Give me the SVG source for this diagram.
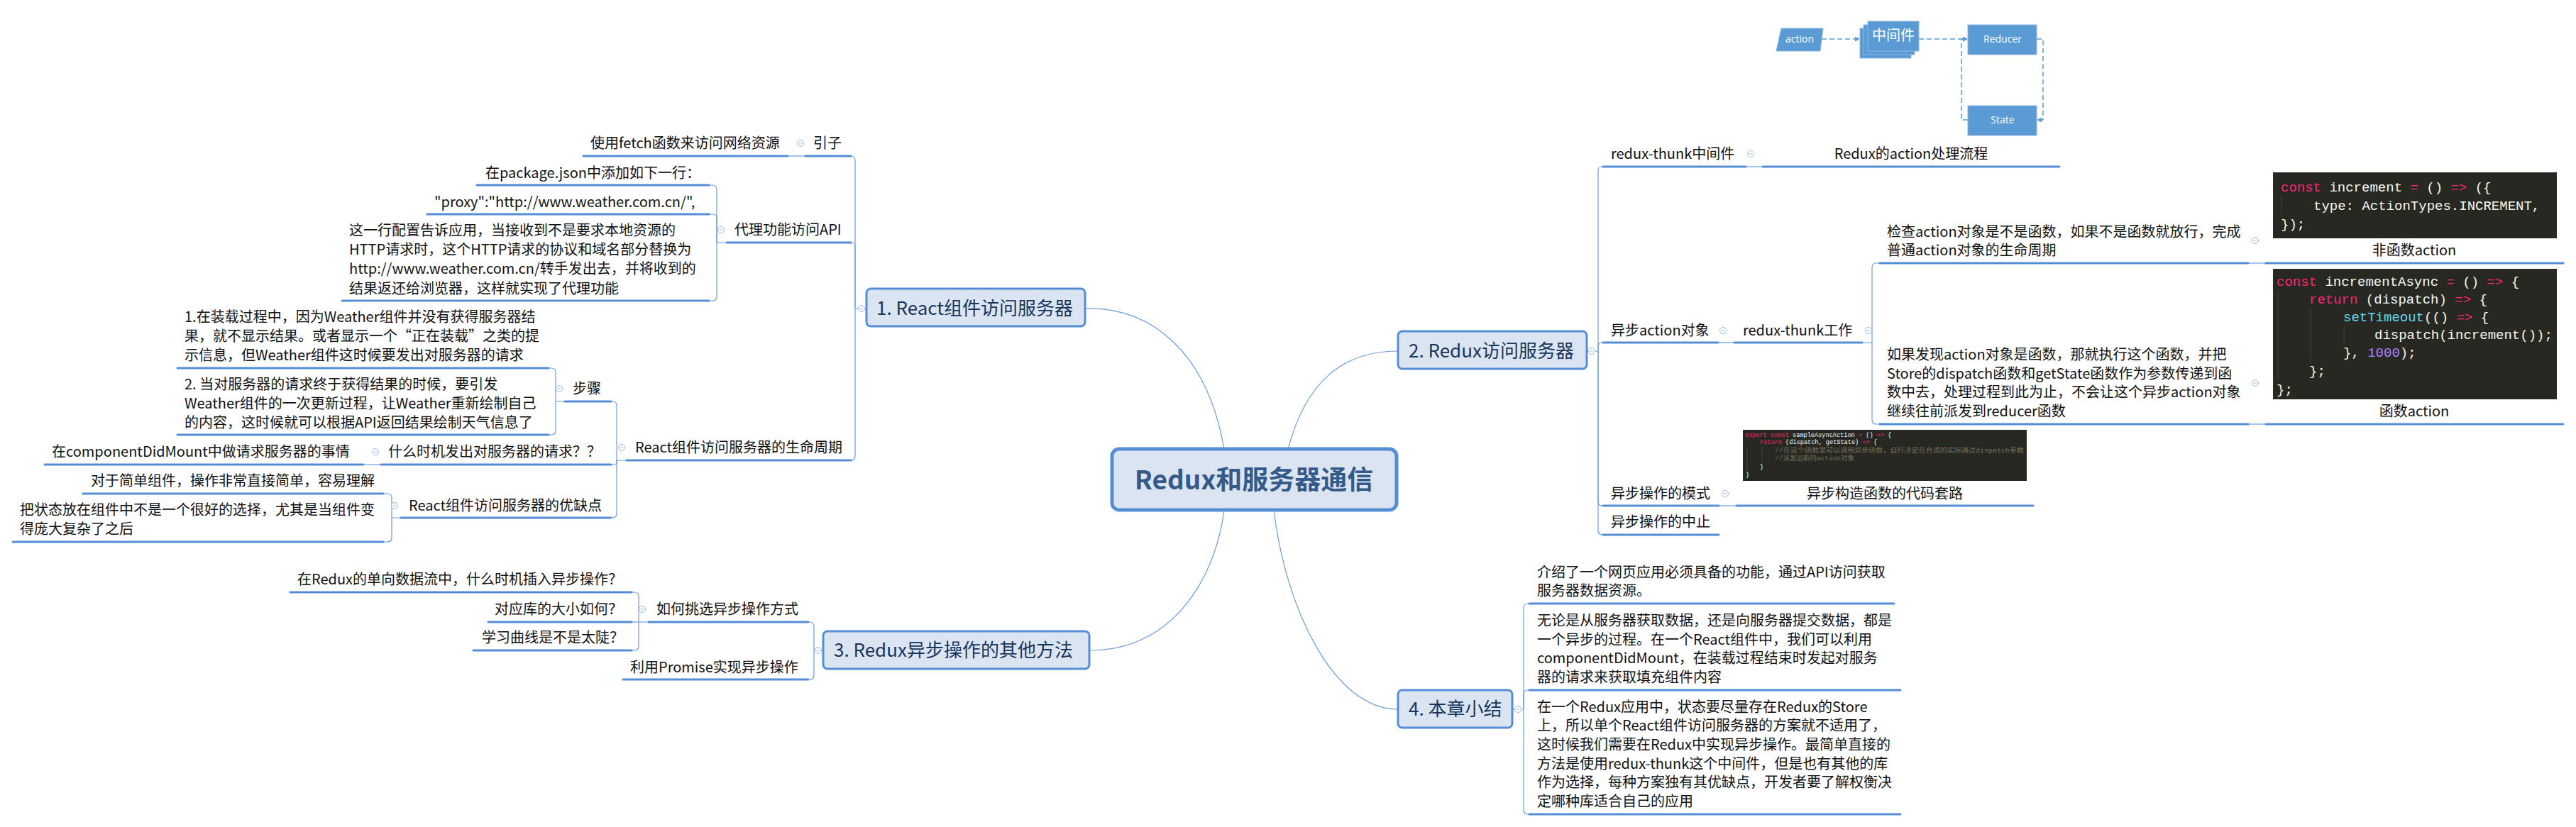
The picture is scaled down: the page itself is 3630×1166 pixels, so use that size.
<svg xmlns="http://www.w3.org/2000/svg" xmlns:xlink="http://www.w3.org/1999/xlink" width="3630" height="1166" viewBox="0 0 3630 1166">
<style>
.t{font-family:"Noto Sans CJK SC","Noto Sans",sans-serif;font-size:20px;fill:#111}
.m{text-anchor:middle}
.ul{stroke:#558ED5;stroke-width:3;fill:none;stroke-linecap:round}
.cn{stroke:#6D9CDA;stroke-width:1.2;fill:none}
.box{fill:#DBE5F1;stroke:#558ED5;stroke-width:3}
.nt{font-family:"Noto Sans CJK SC","Noto Sans",sans-serif;font-size:26px;fill:#17365D}
.ct{font-family:"Noto Sans CJK SC",sans-serif;font-size:37px;font-weight:bold;fill:#345A8A;text-anchor:middle}
.cb{fill:#272822}
.code{font-family:"Liberation Mono","Noto Sans CJK SC",monospace;font-size:19px;fill:#F8F8F2}
.sm{font-size:8.6px}
.k{fill:#F92672}.f{fill:#66D9EF}.n{fill:#AE81FF}.cm{fill:#75715E}
.guide{stroke:#45453c;stroke-width:1}
.fl{fill:#5B9BD5;stroke:#8DB8E2;stroke-width:1}
.ft{font-family:"Open Sans","Noto Sans CJK SC",sans-serif;font-size:14px;fill:#fff;text-anchor:middle}
.dash{stroke:#5B9BD5;stroke-width:1.5;fill:none;stroke-dasharray:7 4}
</style>
<defs>
<g id="mk"><circle r="4.5" fill="#fff" stroke="#9DB9E3" stroke-width="1"/><line x1="-2.2" y1="0" x2="2.2" y2="0" stroke="#9DB9E3" stroke-width="1"/></g>
<marker id="arr" viewBox="0 0 8 8" refX="7" refY="4" markerWidth="7" markerHeight="7" orient="auto" markerUnits="userSpaceOnUse"><path d="M0,0 L8,4 L0,8 z" fill="#5B9BD5"/></marker>
</defs>
<rect width="3630" height="1166" fill="#fff"/>

<g id="connectors">
<path class="cn" d="M1529 435 C1625 432 1702 500 1725 633"/>
<path class="cn" d="M1815 633 C1840 540 1890 495 1970 495"/>
<path class="cn" d="M1725 719 C1712 820 1650 917 1535 917"/>
<path class="cn" d="M1795 719 C1812 860 1880 1000 1970 1000"/>
<path class="cn" d="M1221 435 H1205 V226 Q1205 220 1199 220"/>
<path class="cn" d="M1205 435 V348 Q1205 342 1199 342"/>
<path class="cn" d="M1205 435 V643 Q1205 649 1199 649"/>
<path class="cn" d="M1135 220 H1110"/>
<path class="cn" d="M1024 342 H1010 V267 Q1010 261 1004 261 H999"/>
<path class="cn" d="M1010 342 V308 Q1010 302 1004 302 H999"/>
<path class="cn" d="M1010 342 V418 Q1010 424 1004 424 H999"/>
<path class="cn" d="M883 649 H869 V572 Q869 566 863 566 H861"/>
<path class="cn" d="M869 649 V652 Q869 655 866 655 H861"/>
<path class="cn" d="M869 649 V724 Q869 730 863 730 H861"/>
<path class="cn" d="M796 566 H783 V525 Q783 519 777 519 H773"/>
<path class="cn" d="M783 566 V607 Q783 613 777 613 H773"/>
<path class="cn" d="M537 655 H512"/>
<path class="cn" d="M565 730 H552 V702 Q552 696 546 696 H540"/>
<path class="cn" d="M552 730 V758 Q552 764 546 764 H540"/>
<path class="cn" d="M1160 917 H1147 V883 Q1147 877 1141 877 H1139"/>
<path class="cn" d="M1147 917 V952 Q1147 958 1141 958 H1139"/>
<path class="cn" d="M914 877 H890"/>
<path class="cn" d="M900 877 V841 Q900 835 894 835 H890"/>
<path class="cn" d="M900 877 V911 Q900 917 894 917 H890"/>
<path class="cn" d="M2236 495 H2252 V241 Q2252 235 2258 235 H2259"/>
<path class="cn" d="M2252 495 V489 Q2252 483 2258 483 H2259"/>
<path class="cn" d="M2252 495 V707 Q2252 713 2258 713 H2259"/>
<path class="cn" d="M2252 495 V748 Q2252 754 2258 754 H2259"/>
<path class="cn" d="M2460 235 H2484"/>
<path class="cn" d="M2421 483 H2444"/>
<path class="cn" d="M2624 483 H2638 V377 Q2638 371 2644 371 H2649"/>
<path class="cn" d="M2638 483 V592 Q2638 598 2644 598 H2649"/>
<path class="cn" d="M3168 371 H3193"/>
<path class="cn" d="M3168 598 H3193"/>
<path class="cn" d="M2422 713 H2447"/>
<path class="cn" d="M2131 1000 H2147 V857 Q2147 851 2153 851 H2155"/>
<path class="cn" d="M2147 1000 V979 Q2147 973 2153 973 H2155"/>
<path class="cn" d="M2147 1000 V1142 Q2147 1148 2153 1148 H2155"/>
</g>

<g id="center">
<rect x="1567" y="633" width="401" height="86" rx="10" fill="#DBE5F1" stroke="#558ED5" stroke-width="5"/>
<text class="ct" x="1767" y="690">Redux和服务器通信</text>
</g>

<g id="n1">
<rect class="box" x="1221" y="407" width="308" height="53" rx="6"/>
<text class="nt" x="1235" y="444">1. React组件访问服务器</text>
<use xlink:href="#mk" x="1214" y="435"/>
</g>
<g id="n1-intro">
<text class="t" x="1146" y="209">引子</text>
<line class="ul" x1="1135" y1="220" x2="1199" y2="220"/>
<use xlink:href="#mk" x="1128" y="202"/>
</g>
<g id="n1-fetch">
<text class="t" x="832" y="209">使用fetch函数来访问网络资源</text>
<line class="ul" x1="822" y1="220" x2="1110" y2="220"/>
</g>
<g id="n1-proxy">
<text class="t" x="1035" y="331">代理功能访问API</text>
<line class="ul" x1="1024" y1="342" x2="1199" y2="342"/>
<use xlink:href="#mk" x="1016" y="324"/>
</g>
<g id="n1-proxy-a">
<text class="t" x="684" y="251">在package.json中添加如下一行：</text>
<line class="ul" x1="672" y1="261" x2="999" y2="261"/>
</g>
<g id="n1-proxy-b">
<text class="t" x="612" y="292">"proxy":"http://www.weather.com.cn/",</text>
<line class="ul" x1="602" y1="302" x2="999" y2="302"/>
</g>
<g id="n1-proxy-c">
<text class="t"><tspan x="492" y="332">这一行配置告诉应用，当接收到不是要求本地资源的</tspan><tspan x="492" y="359">HTTP请求时，这个HTTP请求的协议和域名部分替换为</tspan><tspan x="492" y="386">http://www.weather.com.cn/转手发出去，并将收到的</tspan><tspan x="492" y="414">结果返还给浏览器，这样就实现了代理功能</tspan></text>
<line class="ul" x1="482" y1="424" x2="999" y2="424"/>
</g>
<g id="n1-life">
<text class="t" x="895" y="638">React组件访问服务器的生命周期</text>
<line class="ul" x1="883" y1="649" x2="1199" y2="649"/>
<use xlink:href="#mk" x="876" y="631"/>
</g>
<g id="n1-steps">
<text class="t" x="807" y="555">步骤</text>
<line class="ul" x1="796" y1="566" x2="861" y2="566"/>
<use xlink:href="#mk" x="788" y="548"/>
</g>
<g id="n1-step1">
<text class="t"><tspan x="260" y="454">1.在装载过程中，因为Weather组件并没有获得服务器结</tspan><tspan x="260" y="481">果，就不显示结果。或者显示一个“正在装载”之类的提</tspan><tspan x="260" y="508">示信息，但Weather组件这时候要发出对服务器的请求</tspan></text>
<line class="ul" x1="250" y1="519" x2="773" y2="519"/>
</g>
<g id="n1-step2">
<text class="t"><tspan x="260" y="549">2. 当对服务器的请求终于获得结果的时候，要引发</tspan><tspan x="260" y="576">Weather组件的一次更新过程，让Weather重新绘制自己</tspan><tspan x="260" y="603">的内容，这时候就可以根据API返回结果绘制天气信息了</tspan></text>
<line class="ul" x1="250" y1="613" x2="773" y2="613"/>
</g>
<g id="n1-when">
<text class="t" x="547" y="644">什么时机发出对服务器的请求？？</text>
<line class="ul" x1="537" y1="655" x2="861" y2="655"/>
<use xlink:href="#mk" x="529" y="637"/>
</g>
<g id="n1-when-a">
<text class="t" x="73" y="644">在componentDidMount中做请求服务器的事情</text>
<line class="ul" x1="63" y1="655" x2="512" y2="655"/>
</g>
<g id="n1-pros">
<text class="t" x="576" y="720">React组件访问服务器的优缺点</text>
<line class="ul" x1="565" y1="730" x2="861" y2="730"/>
<use xlink:href="#mk" x="556" y="713"/>
</g>
<g id="n1-pros-a">
<text class="t" x="128" y="685">对于简单组件，操作非常直接简单，容易理解</text>
<line class="ul" x1="117" y1="696" x2="540" y2="696"/>
</g>
<g id="n1-pros-b">
<text class="t"><tspan x="28" y="726">把状态放在组件中不是一个很好的选择，尤其是当组件变</tspan><tspan x="28" y="753">得庞大复杂了之后</tspan></text>
<line class="ul" x1="18" y1="764" x2="540" y2="764"/>
</g>

<g id="n3">
<rect class="box" x="1160" y="890" width="375" height="53" rx="6"/>
<text class="nt" x="1175" y="926">3. Redux异步操作的其他方法</text>
<use xlink:href="#mk" x="1153" y="917"/>
</g>
<g id="n3-choose">
<text class="t" x="925" y="866">如何挑选异步操作方式</text>
<line class="ul" x1="914" y1="877" x2="1139" y2="877"/>
<use xlink:href="#mk" x="905" y="859"/>
</g>
<g id="n3-choose-a">
<text class="t" x="419" y="824">在Redux的单向数据流中，什么时机插入异步操作？</text>
<line class="ul" x1="409" y1="835" x2="890" y2="835"/>
</g>
<g id="n3-choose-b">
<text class="t" x="697" y="866">对应库的大小如何？</text>
<line class="ul" x1="688" y1="877" x2="890" y2="877"/>
</g>
<g id="n3-choose-c">
<text class="t" x="679" y="906">学习曲线是不是太陡？</text>
<line class="ul" x1="667" y1="917" x2="890" y2="917"/>
</g>
<g id="n3-promise">
<text class="t" x="888" y="948">利用Promise实现异步操作</text>
<line class="ul" x1="878" y1="958" x2="1139" y2="958"/>
</g>

<g id="n2">
<rect class="box" x="1970" y="467" width="266" height="53" rx="6"/>
<text class="nt" x="1985" y="504">2. Redux访问服务器</text>
<use xlink:href="#mk" x="2243" y="495"/>
</g>
<g id="n2-thunk">
<text class="t" x="2270" y="224">redux-thunk中间件</text>
<line class="ul" x1="2259" y1="235" x2="2460" y2="235"/>
<use xlink:href="#mk" x="2467" y="217"/>
</g>
<g id="n2-flow">
<path class="dash" d="M2567 55 H2620" marker-end="url(#arr)"/>
<path class="dash" d="M2704 55 H2772" marker-end="url(#arr)"/>
<path class="dash" d="M2870 55 H2879 V169 H2871" marker-end="url(#arr)"/>
<path class="dash" d="M2773 169 H2764 V55 H2772" marker-end="url(#arr)"/>
<polygon class="fl" points="2510,40 2569,40 2565,72 2503,72"/>
<text class="ft" x="2536" y="60">action</text>
<rect class="fl" x="2621" y="40" width="72" height="42"/>
<rect class="fl" x="2626" y="35" width="72" height="42"/>
<rect class="fl" x="2632" y="30" width="72" height="42"/>
<text class="ft" x="2668" y="57" style="font-size:20px">中间件</text>
<rect class="fl" x="2773" y="35" width="97" height="42"/>
<text class="ft" x="2822" y="60">Reducer</text>
<rect class="fl" x="2773" y="149" width="97" height="42"/>
<text class="ft" x="2822" y="174">State</text>
<text class="t m" x="2693" y="224">Redux的action处理流程</text>
<line class="ul" x1="2484" y1="235" x2="2902" y2="235"/>
</g>
<g id="n2-async">
<text class="t" x="2270" y="473">异步action对象</text>
<line class="ul" x1="2259" y1="483" x2="2421" y2="483"/>
<use xlink:href="#mk" x="2428" y="466"/>
</g>
<g id="n2-work">
<text class="t" x="2456" y="473">redux-thunk工作</text>
<line class="ul" x1="2444" y1="483" x2="2624" y2="483"/>
<use xlink:href="#mk" x="2633" y="466"/>
</g>
<g id="n2-check">
<text class="t"><tspan x="2659" y="334">检查action对象是不是函数，如果不是函数就放行，完成</tspan><tspan x="2659" y="360">普通action对象的生命周期</tspan></text>
<line class="ul" x1="2649" y1="371" x2="3168" y2="371"/>
<use xlink:href="#mk" x="3178" y="339"/>
</g>
<g id="n2-plain">
<rect class="cb" x="3203" y="243" width="400" height="93"/>
<line class="guide" x1="3215" y1="278" x2="3215" y2="302"/>
<text class="code" x="3214" y="270"><tspan class="k">const</tspan> increment <tspan class="k">=</tspan> () <tspan class="k">=&gt;</tspan> ({</text>
<text class="code" x="3260" y="296">type: ActionTypes.INCREMENT,</text>
<text class="code" x="3214" y="322">});</text>
<text class="t m" x="3402" y="360">非函数action</text>
<line class="ul" x1="3193" y1="371" x2="3612" y2="371"/>
</g>
<g id="n2-func">
<text class="t"><tspan x="2659" y="507">如果发现action对象是函数，那就执行这个函数，并把</tspan><tspan x="2659" y="534">Store的dispatch函数和getState函数作为参数传递到函</tspan><tspan x="2659" y="560">数中去，处理过程到此为止，不会让这个异步action对象</tspan><tspan x="2659" y="587">继续往前派发到reducer函数</tspan></text>
<line class="ul" x1="2649" y1="598" x2="3168" y2="598"/>
<use xlink:href="#mk" x="3178" y="540"/>
</g>
<g id="n2-funcaction">
<rect class="cb" x="3203" y="379" width="400" height="184"/>
<line class="guide" x1="3210" y1="410" x2="3210" y2="535"/>
<line class="guide" x1="3256" y1="435" x2="3256" y2="510"/>
<line class="guide" x1="3303" y1="460" x2="3303" y2="485"/>
<text class="code" x="3208" y="403"><tspan class="k">const</tspan> incrementAsync <tspan class="k">=</tspan> () <tspan class="k">=&gt;</tspan> {</text>
<text class="code" x="3254" y="428"><tspan class="k">return</tspan> (dispatch) <tspan class="k">=&gt;</tspan> {</text>
<text class="code" x="3302" y="453"><tspan class="f">setTimeout</tspan>(() <tspan class="k">=&gt;</tspan> {</text>
<text class="code" x="3346" y="478">dispatch(increment());</text>
<text class="code" x="3302" y="503">}, <tspan class="n">1000</tspan>);</text>
<text class="code" x="3254" y="529">};</text>
<text class="code" x="3208" y="555">};</text>
<text class="t m" x="3402" y="587">函数action</text>
<line class="ul" x1="3193" y1="598" x2="3612" y2="598"/>
</g>
<g id="n2-pattern">
<text class="t" x="2270" y="703">异步操作的模式</text>
<line class="ul" x1="2259" y1="713" x2="2422" y2="713"/>
<use xlink:href="#mk" x="2431" y="696"/>
</g>
<g id="n2-pattern-a">
<rect class="cb" x="2456" y="606" width="400" height="72"/>
<line class="guide" x1="2462" y1="629" x2="2462" y2="663"/>
<line class="guide" x1="2483" y1="629" x2="2483" y2="652"/>
<text class="code sm" x="2459" y="616"><tspan class="k">export</tspan> <tspan class="k">const</tspan> sampleAsyncAction <tspan class="k">=</tspan> () <tspan class="k">=&gt;</tspan> {</text>
<text class="code sm" x="2480" y="626"><tspan class="k">return</tspan> (dispatch, getState) <tspan class="k">=&gt;</tspan> {</text>
<text class="code sm cm" x="2501" y="638" textLength="351" lengthAdjust="spacingAndGlyphs">//在这个函数里可以调用异步函数，自行决定在合适的实际通过dispatch参数</text>
<text class="code sm cm" x="2501" y="649" textLength="112" lengthAdjust="spacingAndGlyphs">//派发出新的action对象</text>
<text class="code sm" x="2480" y="661">}</text>
<text class="code sm" x="2460" y="672">}</text>
<text class="t m" x="2656" y="703">异步构造函数的代码套路</text>
<line class="ul" x1="2447" y1="713" x2="2865" y2="713"/>
</g>
<g id="n2-abort">
<text class="t" x="2270" y="743">异步操作的中止</text>
<line class="ul" x1="2259" y1="754" x2="2422" y2="754"/>
</g>

<g id="n4">
<rect class="box" x="1970" y="973" width="161" height="53" rx="6"/>
<text class="nt" x="1985" y="1009">4. 本章小结</text>
<use xlink:href="#mk" x="2139" y="1000"/>
</g>
<g id="n4-a">
<text class="t"><tspan x="2166" y="814">介绍了一个网页应用必须具备的功能，通过API访问获取</tspan><tspan x="2166" y="840">服务器数据资源。</tspan></text>
<line class="ul" x1="2155" y1="851" x2="2669" y2="851"/>
</g>
<g id="n4-b">
<text class="t"><tspan x="2166" y="882">无论是从服务器获取数据，还是向服务器提交数据，都是</tspan><tspan x="2166" y="909">一个异步的过程。在一个React组件中，我们可以利用</tspan><tspan x="2166" y="935">componentDidMount，在装载过程结束时发起对服务</tspan><tspan x="2166" y="962">器的请求来获取填充组件内容</tspan></text>
<line class="ul" x1="2155" y1="973" x2="2678" y2="973"/>
</g>
<g id="n4-c">
<text class="t"><tspan x="2166" y="1004">在一个Redux应用中，状态要尽量存在Redux的Store</tspan><tspan x="2166" y="1030">上，所以单个React组件访问服务器的方案就不适用了，</tspan><tspan x="2166" y="1057">这时候我们需要在Redux中实现异步操作。最简单直接的</tspan><tspan x="2166" y="1084">方法是使用redux-thunk这个中间件，但是也有其他的库</tspan><tspan x="2166" y="1110">作为选择，每种方案独有其优缺点，开发者要了解权衡决</tspan><tspan x="2166" y="1137">定哪种库适合自己的应用</tspan></text>
<line class="ul" x1="2155" y1="1148" x2="2678" y2="1148"/>
</g>
</svg>
